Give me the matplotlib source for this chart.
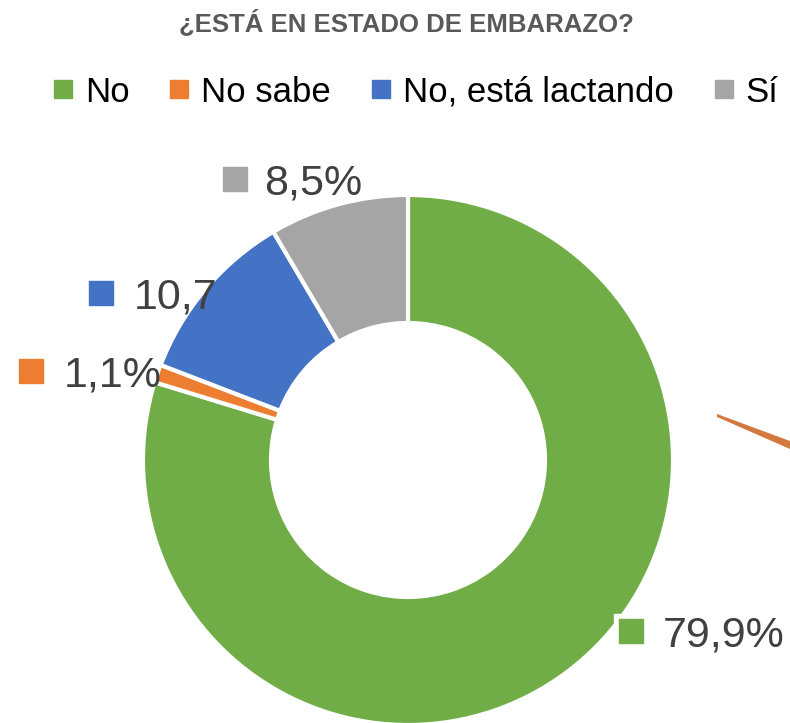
import matplotlib

matplotlib.use("Agg")
import matplotlib.pyplot as plt
from matplotlib.lines import Line2D

categories = ["No", "No sabe", "No, está lactando", "Sí"]
values = [79.9, 1.1, 10.7, 8.5]
label_texts = ["79,9%", "1,1%", "10,7", "8,5%"]
colors = ["#70AD47", "#ED7D31", "#4472C4", "#A5A5A5"]

W, H = 790, 723
plt.rcParams["font.family"] = ["Liberation Sans", "DejaVu Sans"]

fig = plt.figure(figsize=(W / 100, H / 100), dpi=100)
ax = fig.add_axes([0, 0, 1, 1])

# donut, pixel coordinates (y measured from bottom)
cx, cy, r_out, ring = 408, H - 460, 265, 128
ax.pie(values, colors=colors, startangle=90, counterclock=False,
       radius=r_out, center=(cx, cy),
       wedgeprops=dict(width=ring, edgecolor="white", linewidth=3))
ax.set_xlim(0, W)
ax.set_ylim(0, H)
ax.set_aspect("equal")
ax.axis("off")

# stray orange stroke at the right edge
ax.fill([717, 790, 790, 717], [H - 414, H - 441, H - 449, H - 417],
        color="#CF6A2A", alpha=0.9, lw=0)

# data labels: (square left x, square center y, text x) in pixels from top
LBL_FS = 31
em = LBL_FS * 100 / 72
label_pos = [(619, 631, 663), (19, 371, 64), (89, 293, 134), (223, 179, 264)]
for (sx, sy, tx), txt, col in zip(label_pos, label_texts, colors):
    ax.add_patch(plt.Rectangle((sx - 5, H - sy - 17), 34, 34, color="white", zorder=3))
    ax.add_patch(plt.Rectangle((sx, H - sy - 12), 24, 24, color=col, zorder=4))
    ax.text(tx, H - sy - 0.36 * em, txt, fontsize=LBL_FS, color="#404040",
            ha="left", va="baseline", zorder=5)

fig.text(406 / W, 1 - 23 / H, "¿ESTÁ EN ESTADO DE EMBARAZO?", ha="center",
         va="center", fontsize=18.5, fontweight="bold", color="#595959")

handles = [Line2D([], [], marker="s", ls="none", markersize=13,
                  markerfacecolor=c, markeredgecolor=c) for c in colors]
fig.legend(handles, categories, loc="center", bbox_to_anchor=(416 / W, 1 - 92 / H),
           ncol=4, frameon=False, fontsize=25, handlelength=0.52,
           handletextpad=0.37, columnspacing=1.18, borderpad=0)

fig.savefig("out.png", dpi=100)
